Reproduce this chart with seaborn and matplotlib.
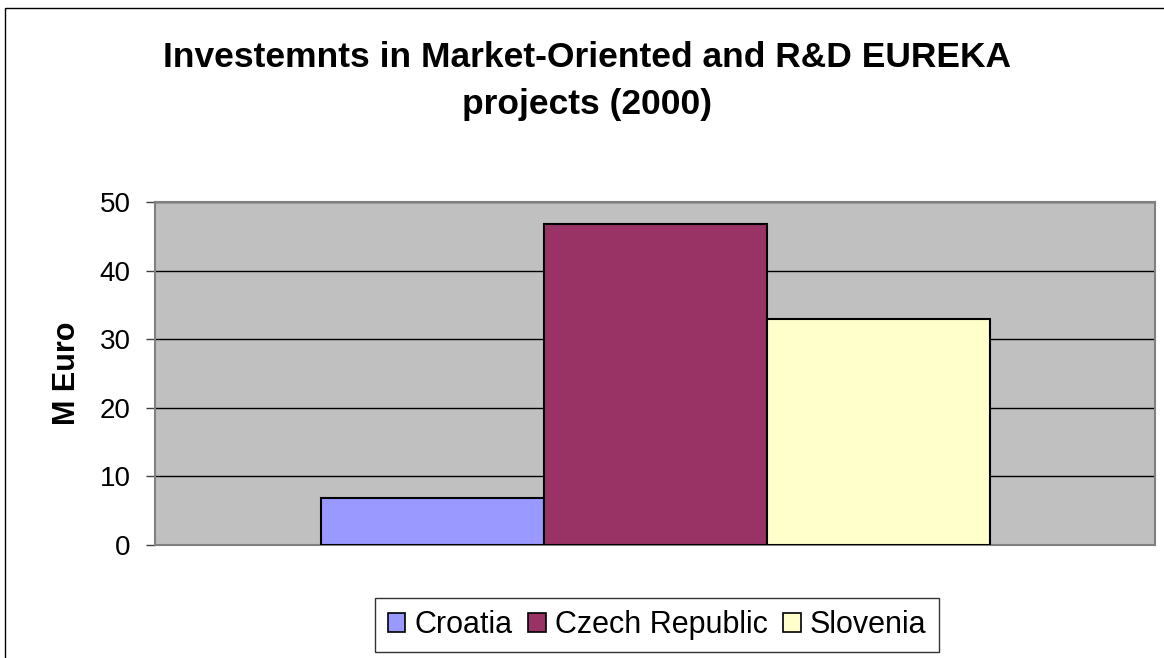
import matplotlib
matplotlib.use("Agg")
import matplotlib.pyplot as plt
import matplotlib.patches as mpatches
import pandas as pd
import seaborn as sns

# data
countries = ["Croatia", "Czech Republic", "Slovenia"]
investments = [6.8, 46.8, 32.9]
bar_colors = ["#9999FF", "#993366", "#FFFFCC"]

df = pd.DataFrame({"group": ["2000"] * 3, "country": countries, "value": investments})

sns.set_style("white")
plt.rcParams["font.family"] = ["Liberation Sans", "DejaVu Sans"]
plt.rcParams["text.color"] = "black"
plt.rcParams["axes.labelcolor"] = "black"
plt.rcParams["ytick.color"] = "black"

fig = plt.figure(figsize=(11.64, 6.58), dpi=100)
ax = fig.add_axes([155 / 1164, 1 - 545 / 658, 1000 / 1164, 343 / 658])

sns.barplot(data=df, x="group", y="value", hue="country", palette=bar_colors,
            width=0.669, edgecolor="black", linewidth=1.5, saturation=1,
            legend=False, ax=ax, zorder=3)

ax.set_facecolor("#C0C0C0")
ax.set_xlim(-0.5, 0.5)
ax.set_ylim(0, 50)
ax.set_yticks([0, 10, 20, 30, 40, 50])
ax.set_xticks([])
ax.set_xlabel("")
ax.yaxis.grid(True, color="black", linewidth=1)
ax.set_axisbelow(True)
for s in ax.spines.values():
    s.set_color("#808080")
    s.set_linewidth(1.5)
ax.tick_params(axis="y", left=True, length=6.5, width=1, color="#404040",
               labelsize=20, pad=11)
ax.set_ylabel("M Euro", fontsize=22, fontweight="bold", labelpad=13)

fig.text(0.504, 1 - 81 / 658, "Investemnts in Market-Oriented and R&D EUREKA\nprojects (2000)",
         ha="center", va="center", fontsize=25.5, fontweight="bold", linespacing=1.55)

handles = [mpatches.Patch(facecolor=c, edgecolor="black", linewidth=1.2, label=n)
           for c, n in zip(bar_colors, countries)]
leg = fig.legend(handles=handles, loc="center", bbox_to_anchor=(657 / 1164, 1 - 625 / 658),
                 ncol=3, fontsize=22, frameon=True, fancybox=False, handlelength=0.58,
                 handleheight=0.58, handletextpad=0.3, columnspacing=0.5,
                 borderpad=0.4, borderaxespad=0, edgecolor="black")
leg.get_frame().set_linewidth(1)

# outer chart border
fig.patches.append(mpatches.Rectangle((5 / 1164, -0.1), 1.2, 1 - 8 / 658 + 0.1,
                                      transform=fig.transFigure, fill=False,
                                      edgecolor="black", linewidth=1))

fig.savefig("out.png", dpi=100)
